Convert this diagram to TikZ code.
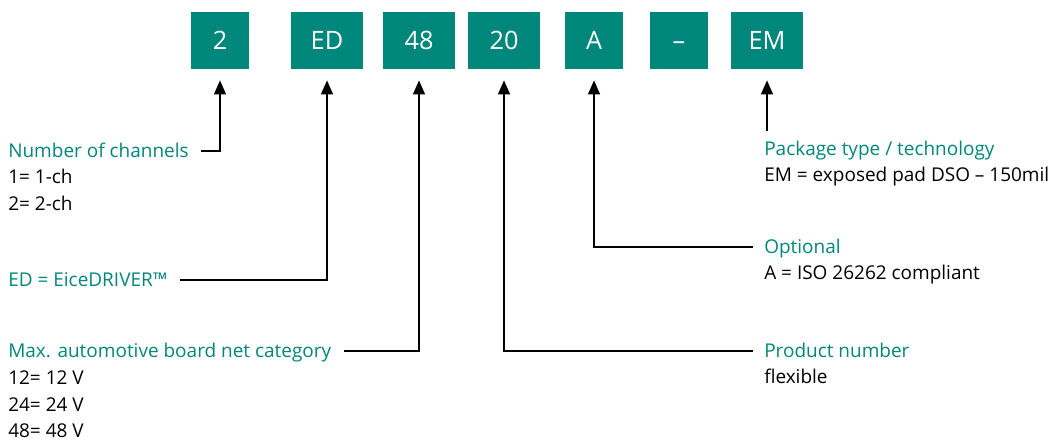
\documentclass[tikz,border=0pt]{standalone}
\usepackage{fontspec}
\setmainfont{Open Sans}
\usetikzlibrary{arrows.meta, positioning}
\definecolor{ifxteal}{HTML}{00877B}

\begin{document}
\begin{tikzpicture}[
    font=\fontsize{13.5pt}{16pt}\selectfont,
    codebox/.style={
        rectangle, fill=ifxteal, text=white,
        minimum height=1.425cm, inner sep=0pt,
        text height=12.8pt, text depth=0pt,
        font=\fontsize{18pt}{21pt}\selectfont
    },
    boxnarrow/.style={codebox, minimum width=1.45cm},
    boxwide/.style={codebox, minimum width=1.8cm},
    fieldtitle/.style={
        anchor=base west, inner sep=0pt, text=ifxteal,
        text height=8.5pt, text depth=0pt
    },
    fielddetail/.style={anchor=base west, inner sep=0pt, text=black},
    pointer/.style={draw=black, line width=0.9pt, -{Triangle[width=0.3cm, length=0.35cm]}}
]
\useasboundingbox (0, 0) rectangle (26.325, -11.025);

% -------------------------
% 1. Type code boxes
% -------------------------
\node[boxnarrow] (Chan) at (5.5, -1.01) {2};
\node[boxwide] (Family) at (8.175, -1.01) {ED};
\node[boxwide] (Volt) at (10.475, -1.01) {48};
\node[boxwide] (Prod) at (12.6, -1.01) {20};
\node[boxnarrow] (Opt) at (14.85, -1.01) {A};
\node[boxnarrow] (Dash) at (16.975, -1.01) {–};
\node[boxwide] (Pkg) at (19.175, -1.01) {EM};

% -------------------------
% 2. Left side: channels, family, voltage
% -------------------------
\node[fieldtitle] (ChanT) at (0.2, -3.925) {Number of channels};
\node[fielddetail] (Chan1) at (0.2, -4.575) {1= 1-ch};
\node[fielddetail] (Chan2) at (0.2, -5.25) {2= 2-ch};

\node[fieldtitle] (FamT) at (0.2, -7.15) {ED = EiceDRIVER™};

\node[fieldtitle] (VoltT) at (0.2, -8.925) {Max. automotive board net category};
\node[fielddetail] (Volt1) at (0.2, -9.6) {12= 12 V};
\node[fielddetail] (Volt2) at (0.2, -10.275) {24= 24 V};
\node[fielddetail] (Volt3) at (0.2, -10.925) {48= 48 V};

% -------------------------
% 3. Right side: package, option, product
% -------------------------
\node[fieldtitle] (PkgT) at (19.1, -3.875) {Package type / technology};
\node[fielddetail] (Pkg1) at (19.1, -4.525) {EM = exposed pad DSO – 150mil};

\node[fieldtitle] (OptT) at (19.1, -6.325) {Optional};
\node[fielddetail] (Opt1) at (19.1, -6.975) {A = ISO 26262 compliant};

\node[fieldtitle] (ProdT) at (19.1, -8.925) {Product number};
\node[fielddetail] (Prod1) at (19.1, -9.575) {flexible};

% -------------------------
% CONNECTORS
% -------------------------
\draw[pointer] ([xshift=0.3cm]ChanT.east) -| ([yshift=-0.28cm]Chan.south);
\draw[pointer] ([xshift=0.3cm]FamT.east) -| ([yshift=-0.28cm]Family.south);
\draw[pointer] ([xshift=0.3cm]VoltT.east) -| ([yshift=-0.28cm]Volt.south);

\draw[pointer] ([xshift=-0.28cm]ProdT.west) -| ([yshift=-0.28cm]Prod.south);
\draw[pointer] ([xshift=-0.28cm]OptT.west) -| ([yshift=-0.28cm]Opt.south);

\coordinate (PkgEnd) at ([yshift=-1.55cm]Pkg.south);
\draw[pointer] (PkgEnd) -- ([yshift=-0.28cm]Pkg.south);

\end{tikzpicture}
\end{document}
